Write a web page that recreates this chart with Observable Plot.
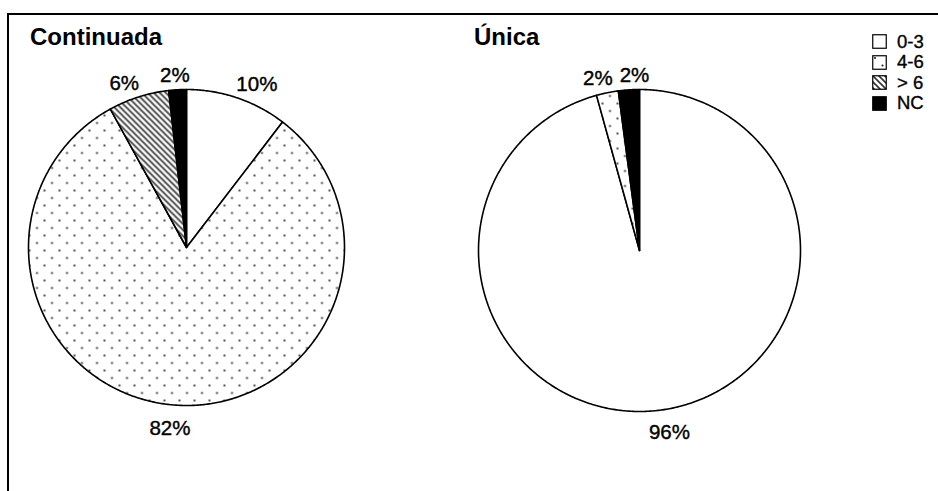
<!DOCTYPE html>
<html>
<head>
<meta charset="utf-8">
<script src="https://cdn.jsdelivr.net/npm/d3@7"></script>
<script src="https://cdn.jsdelivr.net/npm/@observablehq/plot@0.6"></script>
<style>
  body { margin: 0; background: #fff; font-family: "Liberation Sans", Arial, sans-serif; }
  #wrap { position: relative; width: 938px; height: 491px; overflow: hidden; background: #fff; }
  #frame { position: absolute; left: 7px; top: 13px; width: 1000px; height: 1000px; border: 2px solid #000; box-sizing: border-box; pointer-events: none; }
  .title { position: absolute; font-weight: bold; font-size: 24px; line-height: 24px; white-space: nowrap; color: #000; }
  .pie { position: absolute; }
  #legend { position: absolute; left: 872px; top: 31.5px; }
  .item { display: flex; align-items: center; height: 20.5px; font-size: 18.5px; color: #000; white-space: nowrap; -webkit-text-stroke: 0.35px #000; }
  .item svg { margin-right: 10px; display: block; }
</style>
</head>
<body>
<svg width="0" height="0" style="position:absolute">
  <defs>
    <pattern id="pDots" patternUnits="userSpaceOnUse" width="15" height="15">
      <rect width="15" height="15" fill="#fff"/>
      <circle cx="3" cy="3" r="1.1" fill="#2a2a2a"/>
      <circle cx="10.5" cy="10.5" r="1.1" fill="#2a2a2a"/>
    </pattern>
    <pattern id="pHatch" patternUnits="userSpaceOnUse" width="6" height="6">
      <rect width="6" height="6" fill="#fff"/>
      <path d="M0,0 L6,6 M-3,3 L3,9 M3,-3 L9,3" stroke="#333" stroke-width="1.6"/>
    </pattern>
  </defs>
</svg>
<div id="wrap">
  <div class="pie" id="pie1"></div>
  <div class="pie" id="pie2"></div>
  <div class="title" style="left:30px;top:25px">Continuada</div>
  <div class="title" style="left:474px;top:25px">Única</div>
  <div id="legend"></div>
  <div id="frame"></div>
</div>
<script>
// ---- data ----
const categories = ["0-3", "4-6", "> 6", "NC"];
const continuada = [10.4, 81.6, 6.2, 1.8];
const unica = [95.7, 2.2, 0, 2.1];
const chartTitles = ["Continuada", "Única"];

// ---- styles ----
const fills = {"0-3": "#ffffff", "4-6": "url(#pDots)", "> 6": "url(#pHatch)", "NC": "#000000"};
const FONT = '"Liberation Sans", Arial, sans-serif';
const LABEL_SIZE = 20.5;

const ctx = document.createElement("canvas").getContext("2d");
ctx.font = `${LABEL_SIZE}px ${FONT}`;
function measure(t) { return ctx.measureText(t).width; }

function pie(values, R, W, H) {
  const total = d3.sum(values);
  let cum = 0;
  const poly = [], labels = [];
  values.forEach((v, i) => {
    const a0 = cum / total * 2 * Math.PI;
    cum += v;
    const a1 = cum / total * 2 * Math.PI;
    if (v <= 0) return;
    const cat = categories[i];
    const n = Math.max(2, Math.ceil((a1 - a0) / (Math.PI / 360)));
    poly.push({cat, x: 0, y: 0});
    for (let k = 0; k <= n; k++) {
      const a = a0 + (a1 - a0) * k / n;
      poly.push({cat, x: Math.sin(a), y: Math.cos(a)});
    }
    poly.push({cat, x: 0, y: 0});
    const am = (a0 + a1) / 2, s = Math.sin(am), c = Math.cos(am);
    const text = Math.round(v / total * 100) + "%";
    const w = measure(text);
    const px = s * (R + 12) + Math.sign(s) * Math.min(1, 2.4 * Math.abs(s)) * w / 2;
    const py = c * (R + 18.75) - 4.25;
    labels.push({px, py, w, text});
  });
  // push overlapping labels apart (later label moves clockwise/right)
  for (let i = 1; i < labels.length; i++) {
    const a = labels[i - 1], b = labels[i];
    if (Math.abs(a.py - b.py) < 18 && a.py > 0 && b.py > 0) {
      const need = (a.w + b.w) / 2 + 7;
      if (b.px - a.px < need) b.px = a.px + need;
    }
  }
  const lab = labels.map(d => ({x: d.px / R, y: d.py / R, text: d.text}));
  return Plot.plot({
    width: W, height: H, margin: 0,
    x: {domain: [-W / 2 / R, W / 2 / R], axis: null},
    y: {domain: [-H / 2 / R, H / 2 / R], axis: null},
    color: {type: "identity"},
    style: {background: "transparent", fontFamily: FONT, overflow: "visible"},
    marks: [
      Plot.line(poly, {x: "x", y: "y", z: "cat", fill: d => fills[d.cat], stroke: "#000", strokeWidth: 1.6, strokeLinejoin: "round", curve: "linear"}),
      Plot.text(lab, {x: "x", y: "y", text: "text", fontSize: LABEL_SIZE, fill: "#000", stroke: "#000", strokeWidth: 0.4})
    ]
  });
}

const W = 380, H = 420;
const pies = [
  {el: "#pie1", values: continuada, R: 158, cx: 186, cy: 246.7},
  {el: "#pie2", values: unica, R: 161, cx: 639, cy: 250}
];
for (const p of pies) {
  const node = document.querySelector(p.el);
  node.style.left = (p.cx - W / 2) + "px";
  node.style.top = (p.cy - H / 2) + "px";
  node.appendChild(pie(p.values, p.R, W, H));
}

// ---- legend ----
const legend = d3.select("#legend");
categories.forEach(cat => {
  const item = legend.append("div").attr("class", "item");
  const svg = item.append("svg").attr("width", 15).attr("height", 15);
  svg.append("rect").attr("x", 0.75).attr("y", 0.75).attr("width", 13.5).attr("height", 13.5)
    .attr("fill", fills[cat]).attr("stroke", "#000").attr("stroke-width", 1.2);
  item.append("span").text(cat);
});
</script>
</body>
</html>
